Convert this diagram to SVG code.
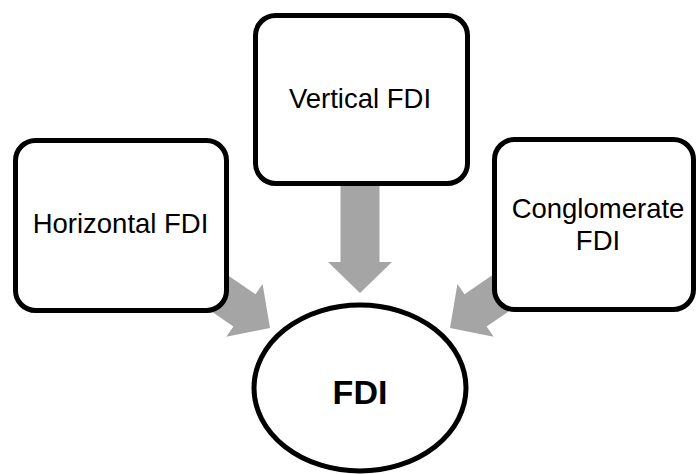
<svg xmlns="http://www.w3.org/2000/svg" width="696" height="474" viewBox="0 0 696 474">
<defs>
<style>
.box{fill:#fff;stroke:#000;stroke-width:5}
.arr{fill:#A5A5A5}
.t{font-family:"Liberation Sans",Arial,sans-serif;font-size:27.5px;fill:#000;text-anchor:middle}
.tb{font-family:"Liberation Sans",Arial,sans-serif;font-size:34px;font-weight:bold;fill:#000;text-anchor:middle}
</style>
<polygon id="arrowShape" class="arr" points="0,0 -31,-32 -31,-19.5 -110,-19.5 -110,19.5 -31,19.5 -31,32"/>
</defs>
<rect width="696" height="474" fill="#fff"/>
<g id="connectors">
<use href="#arrowShape" transform="translate(360,293) rotate(90)"/>
<use href="#arrowShape" transform="translate(270,328) rotate(34.5)"/>
<use href="#arrowShape" transform="translate(450,328) rotate(145.5)"/>
</g>
<g id="horizontal">
<rect class="box" x="15.5" y="140.5" width="211" height="170" rx="20"/>
<text class="t" x="120.5" y="233">Horizontal FDI</text>
</g>
<g id="vertical">
<rect class="box" x="255.5" y="15.5" width="212" height="168" rx="20"/>
<text class="t" x="360" y="108">Vertical FDI</text>
</g>
<g id="conglomerate">
<rect class="box" x="494.5" y="139.5" width="199" height="170" rx="20"/>
<text class="t" x="598" y="218">Conglomerate</text>
<text class="t" x="598" y="250">FDI</text>
</g>
<g id="fdi">
<ellipse class="box" cx="360" cy="388" rx="106" ry="83"/>
<text class="tb" x="360" y="404">FDI</text>
</g>
</svg>
